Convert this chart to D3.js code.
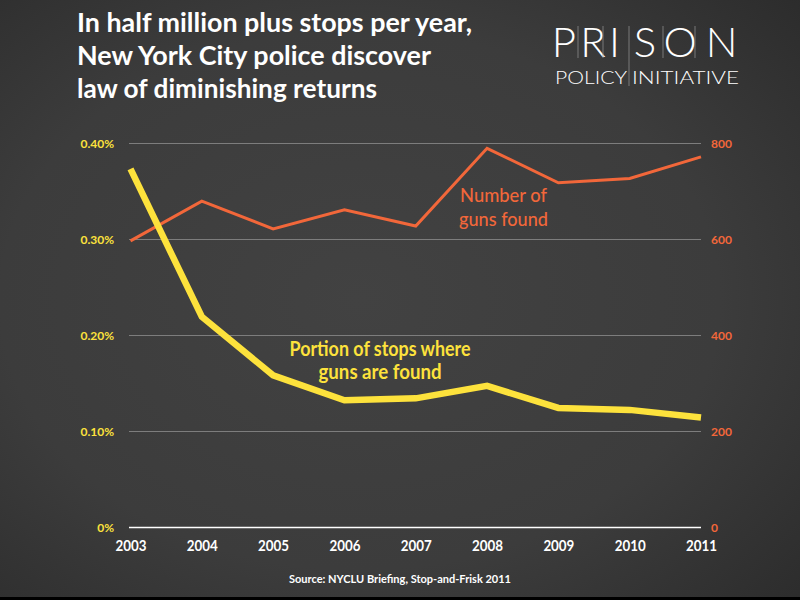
<!DOCTYPE html>
<html><head><meta charset="utf-8">
<script src="https://cdn.jsdelivr.net/npm/d3@7"></script>
<style>html,body{margin:0;padding:0;background:#333;}svg{display:block;}</style>
</head><body>
<svg id="chart" width="800" height="600"></svg>
<script>
const years = ["2003","2004","2005","2006","2007","2008","2009","2010","2011"];
const portionFound = [0.373, 0.219, 0.158, 0.132, 0.134, 0.147, 0.124, 0.122, 0.114]; // percent
const gunsFound = [596, 679, 621, 661, 627, 789, 717, 726, 771];
const leftTicks = [0, 0.1, 0.2, 0.3, 0.4];
const rightTicks = [0, 200, 400, 600, 800];
const titleLines = ["In half million plus stops per year,", "New York City police discover", "law of diminishing returns"];
const sourceText = "Source: NYCLU Briefing, Stop-and-Frisk 2011";

const YELLOW = "#fde23c", ORANGE = "#f2673a";
const labelFont = "Lato,'Open Sans',sans-serif";

const svg = d3.select("#chart");
const defs = svg.append("defs");
const rg = defs.append("radialGradient").attr("id","bg").attr("cx","45%").attr("cy","50%").attr("r","75%");
rg.append("stop").attr("offset","0%").attr("stop-color","#424242");
rg.append("stop").attr("offset","60%").attr("stop-color","#3c3c3c");
rg.append("stop").attr("offset","100%").attr("stop-color","#2c2c2c");
svg.append("rect").attr("width",800).attr("height",600).attr("fill","url(#bg)");
svg.append("rect").attr("y",597).attr("width",800).attr("height",3).attr("fill","#000");

// squeeze a text element to a target width (emulates a condensed face)
function fit(sel, w) {
  sel.each(function() {
    const cur = this.getComputedTextLength();
    if (Math.abs(cur - w) > 0.5) {
      d3.select(this).attr("textLength", w).attr("lengthAdjust", "spacingAndGlyphs");
    }
  });
}

const x = d3.scalePoint().domain(years).range([130.5, 701]);
const yL = d3.scaleLinear().domain([0, 0.4]).range([527, 143]);
const yR = d3.scaleLinear().domain([0, 800]).range([527, 143]);

// grid lines
svg.append("g").selectAll("line").data(leftTicks.filter(d=>d>0)).join("line")
  .attr("x1",129).attr("x2",701).attr("y1",d=>yL(d)+0.5).attr("y2",d=>yL(d)+0.5)
  .attr("stroke","#7d7d7d").attr("stroke-width",1);
svg.append("line").attr("x1",129).attr("x2",701).attr("y1",yL(0)+0.5).attr("y2",yL(0)+0.5)
  .attr("stroke","#fff").attr("stroke-width",1.3);

// left axis
const axL = d3.axisLeft(yL).tickValues(leftTicks).tickSize(0).tickPadding(0)
  .tickFormat(d => d === 0 ? "0%" : d3.format(".2f")(d) + "%");
const gL = svg.append("g").attr("transform","translate(114,0)").call(axL);
gL.select(".domain").remove();
gL.selectAll("text").attr("fill",YELLOW).attr("font-family",labelFont).attr("font-weight","bold").attr("font-size",12).attr("dy","0.35em");

// right axis
const axR = d3.axisRight(yR).tickValues(rightTicks).tickSize(0).tickPadding(0);
const gR = svg.append("g").attr("transform","translate(711,0)").call(axR);
gR.select(".domain").remove();
gR.selectAll("text").attr("fill",ORANGE).attr("font-family",labelFont).attr("font-weight","bold").attr("font-size",12).attr("dy","0.35em");

// bottom axis
const axB = d3.axisBottom(x).tickSize(0).tickPadding(0);
const gB = svg.append("g").attr("transform","translate(0,540)").call(axB);
gB.select(".domain").remove();
gB.selectAll("text").attr("fill","#fff").attr("font-family",labelFont).attr("font-weight","bold").attr("font-size",15).attr("dy","0.71em");
fit(gB.selectAll("text"), 31);

// lines
const lineG = d3.line().x((d,i)=>x(years[i])).y(d=>yR(d));
const lineP = d3.line().x((d,i)=>x(years[i])).y(d=>yL(d));
svg.append("path").datum(gunsFound).attr("d",lineG).attr("fill","none").attr("stroke",ORANGE).attr("stroke-width",3);
svg.append("path").datum(portionFound).attr("d",lineP).attr("fill","none").attr("stroke",YELLOW).attr("stroke-width",6.5);

// series labels
const orangeLabel = [{t:"Number of", y:202, w:87}, {t:"guns found", y:226, w:89}];
svg.append("g").selectAll("text").data(orangeLabel).join("text")
  .attr("x",503.5).attr("y",d=>d.y).attr("text-anchor","middle")
  .attr("fill",ORANGE).attr("font-family",labelFont).attr("font-size",20).attr("font-weight",500)
  .text(d=>d.t).each(function(d){ fit(d3.select(this), d.w); });
const yellowLabel = [{t:"Portion of stops where", y:356, w:181}, {t:"guns are found", y:379, w:123}];
svg.append("g").selectAll("text").data(yellowLabel).join("text")
  .attr("x",380).attr("y",d=>d.y).attr("text-anchor","middle")
  .attr("fill",YELLOW).attr("font-family",labelFont).attr("font-size",20).attr("font-weight","bold")
  .text(d=>d.t).each(function(d){ fit(d3.select(this), d.w); });

// title
const titleW = [395, 354, 300];
svg.append("g").selectAll("text").data(titleLines).join("text")
  .attr("x",77).attr("y",(d,i)=>31.5+i*33.3)
  .attr("fill","#fff").attr("font-family",labelFont).attr("font-weight","bold").attr("font-size",26)
  .text(d=>d).each(function(d,i){ fit(d3.select(this), titleW[i]); });

// source
const src = svg.append("text").attr("x",400).attr("y",583).attr("text-anchor","middle")
  .attr("fill","#fff").attr("font-family",labelFont).attr("font-weight","bold").attr("font-size",12)
  .text(sourceText);
fit(src, 222);

// logo
const logo = svg.append("g");
const letters = "PRISON".split("");
const letterX = [564, 593, 614.5, 645, 680, 721.5];
logo.selectAll("text.big").data(letters).join("text").attr("class","big")
  .attr("x",(d,i)=>letterX[i]).attr("y",57).attr("text-anchor","middle")
  .attr("fill","#fff").attr("font-family","Lato,'Open Sans',sans-serif").attr("font-weight",300).attr("font-size",42)
  .text(d=>d);
const sepX = [578, 603, 629, 663, 695];
logo.selectAll("line").data(sepX).join("line")
  .attr("x1",d=>d).attr("x2",d=>d).attr("y1",26).attr("y2",(d,i)=>i===2?86:58)
  .attr("stroke","#8a8a8a").attr("stroke-width",0.8);
const pol = logo.append("text").attr("x",555).attr("y",84).attr("text-anchor","start")
  .attr("fill","#fff").attr("font-family","Lato,'Open Sans',sans-serif").attr("font-weight",300).attr("font-size",18)
  .text("POLICY");
fit(pol, 72);
const ini = logo.append("text").attr("x",632).attr("y",84).attr("text-anchor","start")
  .attr("fill","#fff").attr("font-family","Lato,'Open Sans',sans-serif").attr("font-weight",300).attr("font-size",18)
  .text("INITIATIVE");
fit(ini, 107);
</script>
</body></html>
